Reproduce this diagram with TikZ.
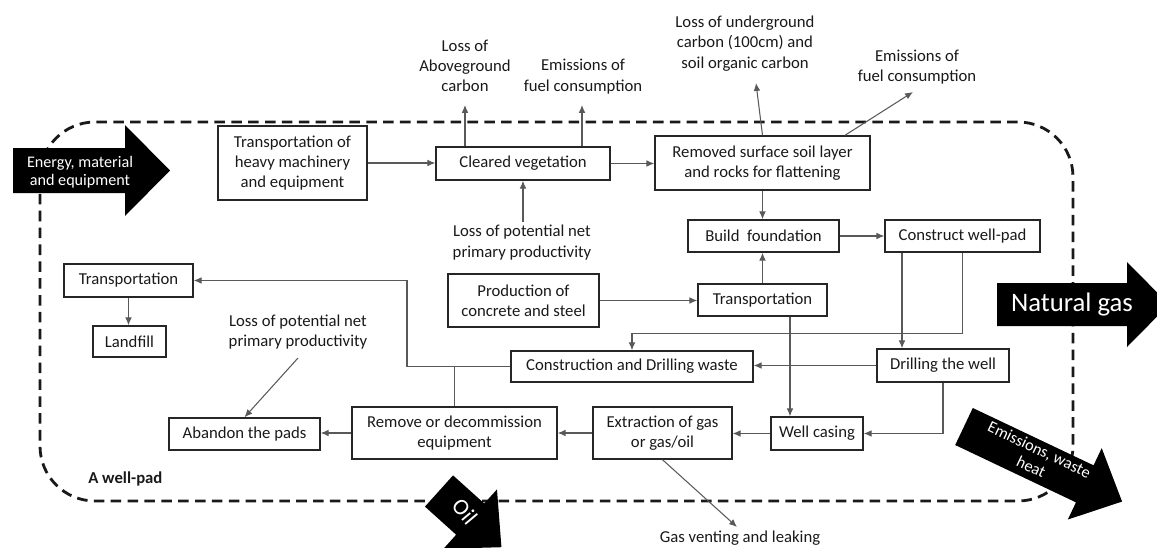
\documentclass[tikz,border=0pt]{standalone}
\usepackage{fontspec}
\setmainfont{Carlito}
\usetikzlibrary{arrows.meta,calc}
\begin{document}
\begin{tikzpicture}[x=0.02cm,y=-0.02cm,
  box/.style={draw=black!85,line width=0.8pt,align=center,inner sep=0pt,font=\fontsize{9.5}{11.5}\selectfont,text=black!90},
  lbl/.style={align=center,inner sep=0pt,font=\fontsize{9.5}{11.5}\selectfont,text=black!90},
  conn/.style={draw=black!65,line width=0.6pt,-{Latex[length=4.5pt,width=3.8pt]}},
  plain/.style={draw=black!65,line width=0.6pt},
  bigarrow/.style={fill=black,draw=none},
  wtext/.style={text=white,align=center,inner sep=0pt},
  padline/.style={draw=black!90,line width=1.6pt,dash pattern=on 6pt off 3.6pt,rounded corners=1.1cm}]
\useasboundingbox (0,0) rectangle (1157,548);
\clip (0,0) rectangle (1157,548);

% well-pad boundary
\draw[padline] (40,122) rectangle (1073,501);
\node[lbl,anchor=west,font=\bfseries\fontsize{9.5}{11.5}\selectfont] (wellpad) at (88,479) {A well-pad};

% boxes
\node[box,minimum width=2.98cm,minimum height=1.48cm] (heavy) at (292.5,163) {Transportation of\\heavy machinery\\and equipment};
\node[box,minimum width=3.48cm,minimum height=0.66cm] (cleared) at (523,163.5) {Cleared vegetation};
\node[box,minimum width=4.3cm,minimum height=1.08cm] (removed) at (762.5,163) {Removed surface soil layer\\and rocks for flattening};
\node[box,minimum width=3.02cm,minimum height=0.64cm] (build) at (763.5,236) {Build\ \ foundation};
\node[box,minimum width=3.1cm,minimum height=0.64cm] (construct) at (962.5,236) {Construct well-pad};
\node[box,minimum width=3.02cm,minimum height=1.06cm] (production) at (523.5,300.5) {Production of\\concrete and steel};
\node[box,minimum width=2.58cm,minimum height=0.64cm] (transM) at (762.5,300) {Transportation};
\node[box,minimum width=2.64cm,minimum height=0.66cm] (drilling) at (943,365.5) {Drilling the well};
\node[box,minimum width=4.84cm,minimum height=0.62cm] (waste) at (632,366.5) {Construction and Drilling waste};
\node[box,minimum width=1.84cm,minimum height=0.66cm] (casing) at (817,433.5) {Well casing};
\node[box,minimum width=2.78cm,minimum height=1.04cm] (extraction) at (662.5,433) {Extraction of gas\\or gas/oil};
\node[box,minimum width=4.1cm,minimum height=1.04cm] (remove) at (454.5,433) {Remove or decommission\\equipment};
\node[box,minimum width=3.02cm,minimum height=0.64cm] (abandon) at (244.5,434) {Abandon the pads};
\node[box,minimum width=2.58cm,minimum height=0.66cm] (transL) at (128.5,280.5) {Transportation};
\node[box,minimum width=1.46cm,minimum height=0.62cm] (landfill) at (129.5,341.5) {Landfill};

% free labels
\node[lbl] (lossA) at (465,66) {Loss of\\Aboveground\\carbon};
\node[lbl] (emis1) at (583,76.5) {Emissions of\\fuel consumption};
\node[lbl] (lossU) at (745,43.5) {Loss of underground\\carbon (100cm) and\\soil organic carbon};
\node[lbl] (emis2) at (917,67) {Emissions of\\fuel consumption};
\node[lbl] (pot1) at (522,242.5) {Loss of potential net\\primary productivity};
\node[lbl] (pot2) at (298,332) {Loss of potential net\\primary productivity};
\node[lbl] (gasvent) at (740,538) {Gas venting and leaking};

\coordinate (tA) at (465,105);
\coordinate (tE1) at (582,105);
\coordinate (tU) at (756,83);
\coordinate (tE2) at (913,92);
\coordinate (sP1) at (523,222);
\coordinate (sP2) at (298,358);
\coordinate (tG) at (737,527);
\coordinate (jn) at (407,366.5);

% connectors
\draw[conn] (heavy.east) -- (heavy.east -| cleared.west);
\draw[conn] (cleared.east) -- (cleared.east -| removed.west);
\draw[conn] (cleared.north -| tA) -- (tA);
\draw[conn] (cleared.north -| tE1) -- (tE1);
\draw[conn] (sP1) -- (cleared.south -| sP1);
\draw[conn] (removed.north) -- (tU);
\draw[conn] ([xshift=1.65cm]removed.north) -- (tE2);
\draw[conn] (removed.south) -- (removed.south |- build.north);
\draw[conn] (build.east) -- (construct.west);
\draw[conn] (transM.north) -- (transM.north |- build.south);
\draw[conn] (production.east) -- (production.east -| transM.west);
\draw[conn] ([xshift=-1.21cm]construct.south) -- ([xshift=-1.21cm]construct.south |- drilling.north);
\draw[conn] (construct.south) -- ++(0,81) -| (waste.north);
\draw[conn] (drilling.west) -- (drilling.west -| waste.east);
\draw[conn] ([xshift=0.55cm]transM.south) -- ([xshift=0.55cm]transM.south |- casing.north);
\draw[conn] (drilling.south) |- (casing.east);
\draw[conn] (casing.west) -- (casing.west -| extraction.east);
\draw[conn] (extraction.west) -- (remove.east);
\draw[conn] (remove.west) -- (remove.west -| abandon.east);
\draw[conn] (waste.west) -- (jn) |- (transL.east);
\draw[plain] (remove.north) -- (remove.north |- waste.west);
\draw[conn] (transL.south) -- (transL.south |- landfill.north);
\draw[conn] (sP2) -- (abandon.north);
\draw[conn] (extraction.south) -- (tG);

% big arrows
\fill[bigarrow] (13,148) -- (125,148) -- (125,125) -- (170,170.5) -- (125,216) -- (125,193) -- (13,193) -- cycle;
\node[wtext,font=\fontsize{9.2}{10.5}\selectfont] (energy) at (80,172) {Energy, material\\and equipment};

\fill[bigarrow] (997,283) -- (1127,283) -- (1127,262) -- (1169,304.5) -- (1127,347) -- (1127,326) -- (997,326) -- cycle;
\node[wtext,font=\fontsize{15.2}{17}\selectfont] (gas) at (1072,305) {Natural gas};

\begin{scope}[shift={(964,426.5)},rotate=-25.4]
  \fill[bigarrow] (0,-20.5) -- (133.7,-20.5) -- (133.7,-39.5) -- (175,0) -- (133.7,39.5) -- (133.7,20.5) -- (0,20.5) -- cycle;
  \node[wtext,rotate=-25.4,font=\fontsize{9.3}{10.8}\selectfont] (emiss) at (78,-2) {Emissions, waste\\heat};
\end{scope}

\begin{scope}[shift={(439,491)},rotate=-42]
  \fill[bigarrow] (0,-21) -- (42,-21) -- (42,-40) -- (84,0) -- (42,40) -- (42,21) -- (0,21) -- cycle;
  \node[wtext,rotate=-50,font=\fontsize{13}{15}\selectfont] (oil) at (33,-2) {Oil};
\end{scope}
\end{tikzpicture}
\end{document}
